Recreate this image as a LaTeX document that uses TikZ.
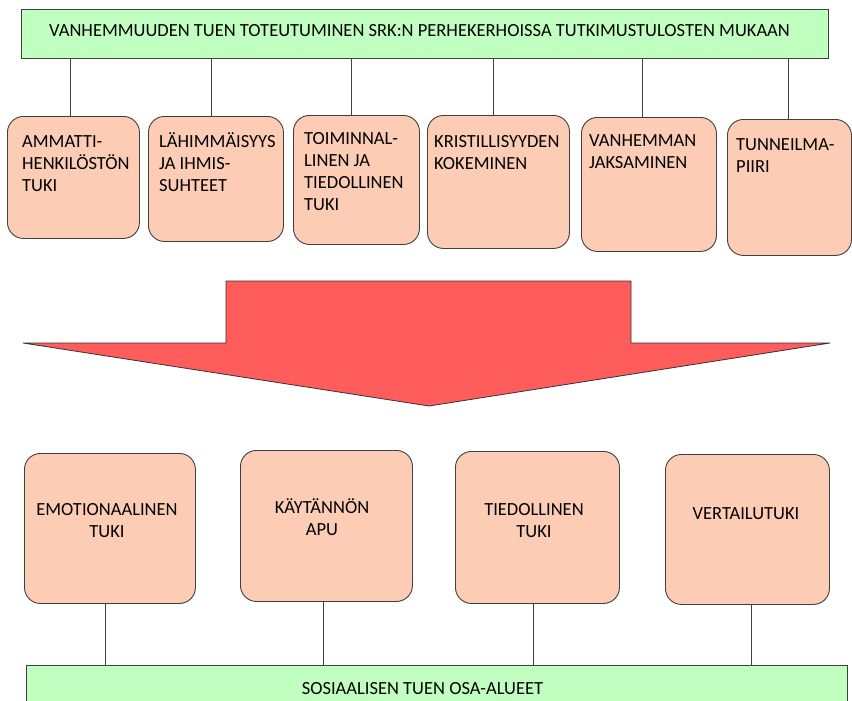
\documentclass[tikz,border=0pt]{standalone}
\usepackage{fontspec}
\setmainfont{Carlito}
\definecolor{vihrea}{RGB}{192,255,192}
\definecolor{persikka}{RGB}{252,205,180}
\definecolor{punainen}{RGB}{255,92,92}
\begin{document}
\begin{tikzpicture}[x=1pt, y=-1pt, font=\fontsize{18.5}{22}\selectfont,
    otsikko/.style={draw=black!75, line width=0.9pt, fill=vihrea, inner sep=0pt, text height=12pt},
    kortti/.style={draw=black!75, line width=0.9pt, fill=persikka, rounded corners=16pt, anchor=north west, inner sep=0pt},
    teksti/.style={anchor=north west, align=left, inner sep=0pt},
    keskella/.style={anchor=north, align=center, inner sep=0pt},
    viiva/.style={draw=black!75, line width=0.9pt}]
      \useasboundingbox (0,0) rectangle (852,701);
      \clip (0,0) rectangle (852,701);
%     otsikko ylhaalla
      \node[otsikko, minimum width=807pt, minimum height=49pt, text depth=5pt] (ots) at (424.5,33.5) {VANHEMMUUDEN TUEN TOTEUTUMINEN SRK:N PERHEKERHOISSA TUTKIMUSTULOSTEN MUKAAN\hspace*{10pt}};
%     tulokset
      \node[kortti, minimum width=132pt, minimum height=122pt] (k1) at (7,116) {};
      \node[kortti, minimum width=135pt, minimum height=125pt] (k2) at (148,116) {};
      \node[kortti, minimum width=126pt, minimum height=129pt] (k3) at (293,115) {};
      \node[kortti, minimum width=142pt, minimum height=133pt] (k4) at (427,115) {};
      \node[kortti, minimum width=135pt, minimum height=134pt] (k5) at (581,117) {};
      \node[kortti, minimum width=124pt, minimum height=136pt] (k6) at (727,119) {};
      \node[teksti] at (22,131.6) {\strut AMMATTI-\\HENKILÖSTÖN\\TUKI};
      \node[teksti] at (159,131.6) {\strut LÄHIMMÄISYYS\\JA IHMIS-\\SUHTEET};
      \node[teksti] at (304,128.6) {\strut TOIMINNAL-\\LINEN JA\\TIEDOLLINEN\\TUKI};
      \node[teksti] at (434,131.6) {\strut KRISTILLISYYDEN\\KOKEMINEN};
      \node[teksti] at (589,130.6) {\strut VANHEMMAN\\JAKSAMINEN};
      \node[teksti] at (736,134.6) {\strut TUNNEILMA-\\PIIRI};
      \foreach \k/\dx in {k1/-3,k2/-5,k3/-5,k4/-5,k5/-7,k6/-1}
        \draw[viiva] ([xshift=\dx pt]\k.north) -- ([xshift=\dx pt]\k.north |- ots.south);
%     iso nuoli
      \draw[draw=black!80, line width=0.8pt, fill=punainen] (226,281) -- (631,281) -- (631,343) -- (830,343) -- (429,406) -- (23,343) -- (226,343) -- cycle;
%     sosiaalisen tuen osa-alueet
      \node[kortti, minimum width=171pt, minimum height=150pt] (a1) at (24,453) {};
      \node[kortti, minimum width=172pt, minimum height=151pt] (a2) at (240,450) {};
      \node[kortti, minimum width=164pt, minimum height=152pt] (a3) at (455,451) {};
      \node[kortti, minimum width=164pt, minimum height=150pt] (a4) at (665,454) {};
      \node[keskella] at (107,499.6) {\strut EMOTIONAALINEN\\TUKI};
      \node[keskella] at (322,497.6) {\strut KÄYTÄNNÖN\\APU};
      \node[keskella] at (534,499.6) {\strut TIEDOLLINEN\\TUKI};
      \node[keskella] at (746,503.6) {\strut VERTAILUTUKI};
      \node[otsikko, minimum width=821pt, minimum height=60pt, text depth=14pt] (ala) at (436.5,695) {SOSIAALISEN TUEN OSA-ALUEET\hspace*{28pt}};
      \foreach \a/\dx in {a1/-4.5,a2/-3,a3/-4,a4/4}
        \draw[viiva] ([xshift=\dx pt]\a.south) -- ([xshift=\dx pt]\a.south |- ala.north);
    \end{tikzpicture}
\end{document}
